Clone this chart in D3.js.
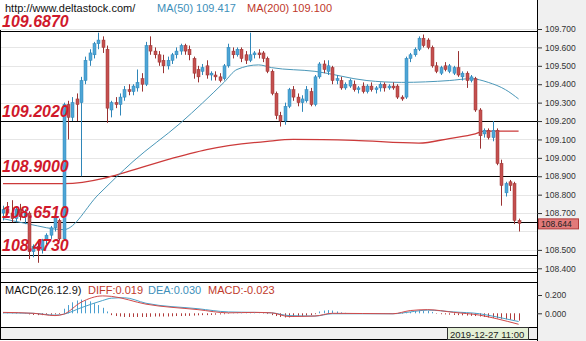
<!DOCTYPE html>
<html>
<head>
<meta charset="utf-8">
<script src="https://cdn.jsdelivr.net/npm/d3@7/dist/d3.min.js"></script>
<style>
  body { margin: 0; background: #fff; }
  svg { display: block; font-family: "Liberation Sans", Arial, sans-serif; }
</style>
</head>
<body>
<div id="chart"></div>
<script>
// price candles [open, high, low, close]
const candles = [
  [108.70,108.74,108.66,108.72],[108.72,108.76,108.69,108.70],[108.70,108.77,108.65,108.67],[108.67,108.73,108.65,108.72],
  [108.72,108.75,108.66,108.68],[108.68,108.72,108.64,108.70],[108.70,108.71,108.45,108.49],[108.49,108.53,108.46,108.52],
  [108.52,108.55,108.43,108.50],[108.50,108.56,108.48,108.55],[108.55,108.59,108.53,108.58],[108.58,108.63,108.56,108.62],
  [108.62,108.70,108.60,108.68],[108.66,108.67,108.55,108.56],[108.56,109.30,108.55,109.29],[109.29,109.31,109.10,109.22],
  [109.22,109.33,109.20,109.30],[109.32,109.35,109.20,109.29],[109.30,109.44,108.90,109.42],[109.42,109.55,109.40,109.53],
  [109.53,109.59,109.50,109.57],[109.56,109.63,109.54,109.62],[109.62,109.68,109.59,109.64],[109.64,109.66,109.57,109.60],
  [109.59,109.61,109.19,109.27],[109.26,109.31,109.22,109.30],[109.30,109.33,109.27,109.29],[109.29,109.35,109.23,109.33],
  [109.33,109.39,109.31,109.37],[109.37,109.40,109.34,109.36],[109.36,109.40,109.34,109.39],[109.38,109.48,109.36,109.41],
  [109.43,109.46,109.36,109.40],[109.40,109.63,109.39,109.61],[109.61,109.66,109.56,109.58],[109.58,109.60,109.54,109.56],
  [109.56,109.58,109.50,109.52],[109.53,109.56,109.46,109.50],[109.50,109.55,109.48,109.53],[109.53,109.57,109.51,109.56],
  [109.56,109.60,109.54,109.58],[109.58,109.62,109.56,109.61],[109.61,109.62,109.56,109.58],[109.59,109.61,109.53,109.56],
  [109.54,109.55,109.43,109.46],[109.48,109.50,109.41,109.44],[109.47,109.51,109.45,109.49],[109.50,109.53,109.43,109.45],
  [109.45,109.47,109.42,109.46],[109.45,109.47,109.42,109.44],[109.44,109.46,109.41,109.42],[109.43,109.51,109.42,109.50],
  [109.50,109.62,109.49,109.60],[109.58,109.60,109.54,109.56],[109.56,109.60,109.55,109.59],[109.59,109.60,109.52,109.54],
  [109.56,109.58,109.51,109.53],[109.53,109.68,109.52,109.56],[109.56,109.58,109.54,109.57],[109.57,109.59,109.54,109.56],
  [109.57,109.58,109.52,109.54],[109.54,109.55,109.46,109.47],[109.47,109.48,109.34,109.35],[109.35,109.36,109.21,109.23],
  [109.23,109.25,109.17,109.20],[109.20,109.30,109.18,109.28],[109.28,109.38,109.27,109.37],[109.37,109.39,109.31,109.33],
  [109.33,109.35,109.28,109.30],[109.30,109.34,109.25,109.32],[109.31,109.39,109.30,109.37],[109.36,109.38,109.28,109.29],
  [109.29,109.45,109.28,109.44],[109.44,109.52,109.43,109.51],[109.51,109.53,109.46,109.48],[109.47,109.53,109.45,109.50],
  [109.49,109.50,109.40,109.42],[109.42,109.45,109.40,109.43],[109.42,109.44,109.37,109.38],[109.38,109.41,109.37,109.40],
  [109.39,109.43,109.38,109.42],[109.40,109.42,109.36,109.37],[109.37,109.39,109.35,109.38],[109.39,109.41,109.35,109.36],
  [109.36,109.40,109.35,109.39],[109.39,109.41,109.36,109.37],[109.37,109.39,109.35,109.38],[109.38,109.41,109.36,109.40],
  [109.40,109.41,109.36,109.38],[109.38,109.40,109.37,109.39],[109.39,109.41,109.37,109.38],[109.39,109.40,109.32,109.33],
  [109.33,109.34,109.31,109.32],[109.33,109.55,109.32,109.54],[109.54,109.57,109.52,109.56],[109.56,109.60,109.55,109.59],
  [109.59,109.66,109.58,109.65],[109.65,109.67,109.60,109.61],[109.64,109.65,109.59,109.60],[109.60,109.61,109.49,109.50],
  [109.50,109.52,109.46,109.47],[109.46,109.50,109.45,109.49],[109.50,109.52,109.47,109.48],[109.47,109.51,109.46,109.50],
  [109.46,109.50,109.45,109.49],[109.49,109.58,109.44,109.45],[109.44,109.47,109.42,109.46],[109.46,109.47,109.38,109.42],
  [109.42,109.45,109.41,109.44],[109.43,109.44,109.25,109.26],[109.26,109.27,109.05,109.12],[109.13,109.16,109.11,109.15],
  [109.15,109.16,109.10,109.11],[109.11,109.20,109.09,109.15],[109.15,109.16,108.96,108.97],[108.97,108.99,108.74,108.85],
  [108.81,108.87,108.79,108.86],[108.87,108.88,108.82,108.85],[108.86,108.87,108.64,108.66],[108.66,108.67,108.60,108.644]
];

// moving averages, [candle index, value]
const ma50 = [[0,108.67],[6,108.64],[14,108.61],[22,108.80],[30,108.98],[41,109.19],[51,109.41],[54,109.48],
  [59,109.505],[62,109.49],[72,109.47],[84,109.42],[92,109.41],[103,109.42],[108,109.43],[112,109.41],[116,109.37],[119,109.32]];
const ma200 = [[0,108.86],[14,108.86],[41,109.01],[47,109.045],[61,109.09],[67,109.10],[81,109.095],[96,109.08],
  [103,109.105],[109,109.13],[111,109.145],[119,109.145]];

// support / resistance levels
const levels = [109.6870, 109.2020, 108.9000, 108.6510, 108.4730];
const gridTicks = [109.7,109.6,109.5,109.4,109.3,109.2,109.1,109.0,108.9,108.8,108.7,108.6,108.5,108.4];
const priceTicks = [109.7,109.6,109.5,109.4,109.3,109.2,109.1,109.0,108.9,108.8,108.7,108.5,108.4];
const lastPrice = 108.644;

// MACD
const diff = [[0,0.01],[7,0.0],[12,-0.025],[14,-0.01],[18,0.12],[23,0.19],[25,0.185],[33,0.10],[45,0.04],[52,0.005],
  [58,0.01],[62,0.005],[66,-0.035],[72,-0.03],[76,0.0],[90,-0.005],[94,0.03],[98,0.04],[104,0.01],[110,-0.02],[114,-0.06],[119,-0.12]];
const dea = [[0,0.005],[7,0.0],[12,-0.02],[14,-0.01],[18,0.06],[23,0.14],[25,0.165],[28,0.17],[33,0.11],[45,0.05],[52,0.015],
  [58,0.01],[62,0.005],[66,-0.025],[72,-0.03],[76,-0.005],[90,-0.005],[94,0.015],[98,0.035],[104,0.015],[110,-0.005],[114,-0.04],[119,-0.09]];
const hist = [
  0.004,0.003,-0.003,-0.004,0.002,-0.003,
  -0.012,-0.018,-0.02,-0.02,-0.018,-0.015,-0.012,-0.008,
  0.05,0.09,0.12,0.14,0.15,0.14,0.13,0.11,0.09,0.06,
  0.02,
  -0.02,-0.03,-0.035,-0.04,-0.04,-0.04,-0.04,-0.04,-0.04,-0.038,-0.035,-0.035,-0.035,-0.035,-0.033,-0.03,-0.03,-0.028,-0.028,-0.025,-0.022,-0.02,-0.02,-0.018,-0.015,-0.012,-0.01,
  -0.005,0.003,0.005,0.006,0.008,0.006,0.004,0.002,-0.004,-0.008,
  -0.02,-0.03,-0.04,-0.045,-0.045,-0.04,-0.035,-0.03,-0.025,-0.02,-0.01,
  0.02,0.03,0.035,0.03,0.02,
  0.01,0.005,0.003,-0.003,0.002,-0.002,0.003,-0.003,0.002,-0.002,0.003,-0.003,0.002,-0.003,-0.005,0.004,
  0.015,0.025,0.03,0.03,0.025,0.015,
  -0.005,-0.01,-0.012,-0.015,-0.018,-0.02,-0.022,-0.025,-0.028,-0.03,-0.035,-0.04,-0.045,-0.05,-0.055,-0.06,-0.065,-0.07,-0.075,-0.08
];
const macdTicks = [0.2, 0.0];

const W = 586, H = 341;
const plotRight = 537;
const teal = "#4ea5d6", tealDark = "#2f86b8", red = "#c4504f", redDark = "#9a3232";

const svg = d3.select("#chart").append("svg").attr("width", W).attr("height", H);

// right axis background
svg.append("rect").attr("x", plotRight).attr("y", 0).attr("width", W - plotRight).attr("height", H).attr("fill", "#f0f0f0");

const x = d3.scaleLinear().domain([0, candles.length - 1]).range([3, 518.6]);
const y = d3.scaleLinear().domain([108.4, 109.7]).range([268.3, 29]);
const ym = d3.scaleLinear().domain([0, 0.2]).range([313.3, 295]);

// header
svg.append("text").attr("x", 5).attr("y", 12).attr("font-size", 11).attr("fill", "#111").text("http://www.deltastock.com/");
svg.append("text").attr("x", 157).attr("y", 12).attr("font-size", 11).attr("fill", "#3d8fba").text("MA(50)  109.417");
svg.append("text").attr("x", 247).attr("y", 12).attr("font-size", 11).attr("fill", "#c0392b").text("MA(200)  109.100");

// grid
const g = svg.append("g");
g.selectAll(".grid").data(gridTicks).join("line")
  .attr("x1", 0).attr("x2", plotRight)
  .attr("y1", d => Math.round(y(d)) + 0.5).attr("y2", d => Math.round(y(d)) + 0.5)
  .attr("stroke", "#e6e6e6");

// level lines
g.selectAll(".lvl").data(levels).join("line")
  .attr("x1", 0).attr("x2", plotRight)
  .attr("y1", d => Math.round(y(d)) + 0.5).attr("y2", d => Math.round(y(d)) + 0.5)
  .attr("stroke", "#000");

// panel frames
svg.append("line").attr("x1", 0).attr("x2", plotRight).attr("y1", 272.5).attr("y2", 272.5).attr("stroke", "#000");
svg.append("line").attr("x1", 0).attr("x2", plotRight).attr("y1", 282.5).attr("y2", 282.5).attr("stroke", "#000");
svg.append("line").attr("x1", 0).attr("x2", plotRight).attr("y1", 327.5).attr("y2", 327.5).attr("stroke", "#000");
svg.append("rect").attr("x", 0).attr("y", 328).attr("width", plotRight).attr("height", 11).attr("fill", "#f0f0f0");
svg.append("line").attr("x1", 0).attr("x2", plotRight).attr("y1", 339.5).attr("y2", 339.5).attr("stroke", "#000");
svg.append("line").attr("x1", 0.5).attr("x2", 0.5).attr("y1", 30).attr("y2", 340).attr("stroke", "#000");
svg.append("line").attr("x1", plotRight + 0.5).attr("x2", plotRight + 0.5).attr("y1", 0).attr("y2", H).attr("stroke", "#000");

// moving averages
const line = d3.line().x(d => x(d[0])).y(d => y(d[1])).curve(d3.curveMonotoneX);
svg.append("path").datum(ma200).attr("d", line).attr("fill", "none").attr("stroke", "#cc3a3a").attr("stroke-width", 1.3);
svg.append("path").datum(ma50).attr("d", line).attr("fill", "none").attr("stroke", "#4a97b8").attr("stroke-width", 1);

// candles
const cg = svg.append("g").selectAll("g").data(candles).join("g");
cg.append("line")
  .attr("x1", (d, i) => Math.round(x(i)) + 0.5).attr("x2", (d, i) => Math.round(x(i)) + 0.5)
  .attr("y1", d => y(d[1])).attr("y2", d => y(d[2]))
  .attr("stroke", d => d[3] >= d[0] ? tealDark : redDark);
cg.append("rect")
  .attr("x", (d, i) => Math.round(x(i)) - 1)
  .attr("y", d => y(Math.max(d[0], d[3])))
  .attr("width", 3)
  .attr("height", d => Math.max(1, Math.abs(y(d[0]) - y(d[3]))))
  .attr("fill", d => d[3] >= d[0] ? teal : red)
  .attr("stroke", d => d[3] >= d[0] ? tealDark : redDark)
  .attr("stroke-width", 0.5);

// level labels
svg.selectAll(".lvlText").data(levels).join("text")
  .attr("x", 2).attr("y", d => Math.round(y(d)) - 4)
  .attr("font-size", 16).attr("font-weight", "bold").attr("font-style", "italic")
  .attr("fill", "#d0192b")
  .text(d => d.toFixed(4));

// right price axis
const axis = svg.append("g").attr("transform", `translate(${plotRight},0)`)
  .call(d3.axisRight(y).tickValues(priceTicks).tickFormat(d3.format(".3f")).tickSize(5).tickPadding(3));
axis.select(".domain").remove();
axis.selectAll("line").attr("stroke", "#333");
axis.selectAll("text").attr("font-size", 8.5).attr("fill", "#333").attr("font-family", "Liberation Sans, Arial");

// last price box
const ly = y(lastPrice);
svg.append("rect").attr("x", 538.5).attr("y", ly - 4.5).attr("width", 40).attr("height", 10)
  .attr("fill", "#e27a7a").attr("stroke", "#b03a3a");
svg.append("text").attr("x", 541).attr("y", ly + 3.5).attr("font-size", 8.5).attr("fill", "#222").text(lastPrice.toFixed(3));

// MACD panel
svg.append("g").selectAll("line").data(hist).join("line")
  .attr("x1", (d, i) => Math.round(x(i)) + 0.5).attr("x2", (d, i) => Math.round(x(i)) + 0.5)
  .attr("y1", ym(0)).attr("y2", d => ym(d))
  .attr("stroke", d => d >= 0 ? "#4a9fd0" : "#b03a3a");
const mline = d3.line().x(d => x(d[0])).y(d => ym(d[1])).curve(d3.curveMonotoneX);
svg.append("path").datum(dea).attr("d", mline).attr("fill", "none").attr("stroke", "#4aa0c8").attr("stroke-width", 1);
svg.append("path").datum(diff).attr("d", mline).attr("fill", "none").attr("stroke", "#d04a4a").attr("stroke-width", 1);

svg.append("text").attr("x", 5).attr("y", 294).attr("font-size", 11).attr("fill", "#111").text("MACD(26.12.9)");
svg.append("text").attr("x", 88).attr("y", 294).attr("font-size", 11).attr("fill", "#c0392b").text("DIFF:0.019");
svg.append("text").attr("x", 148).attr("y", 294).attr("font-size", 11).attr("fill", "#3d8fba").text("DEA:0.030");
svg.append("text").attr("x", 208).attr("y", 294).attr("font-size", 11).attr("fill", "#c0392b").text("MACD:-0.023");

const maxis = svg.append("g").attr("transform", `translate(${plotRight},0)`)
  .call(d3.axisRight(ym).tickValues(macdTicks).tickFormat(d3.format(".3f")).tickSize(5).tickPadding(3));
maxis.select(".domain").remove();
maxis.selectAll("line").attr("stroke", "#333");
maxis.selectAll("text").attr("font-size", 8.5).attr("fill", "#333").attr("font-family", "Liberation Sans, Arial");

// time label
svg.append("rect").attr("x", 447.5).attr("y", 327.5).attr("width", 81).attr("height", 12)
  .attr("fill", "#e4f0d6").attr("stroke", "#333");
svg.append("text").attr("x", 450).attr("y", 337.5).attr("font-size", 9.5).attr("fill", "#222").text("2019-12-27 11:00");
</script>
</body>
</html>
